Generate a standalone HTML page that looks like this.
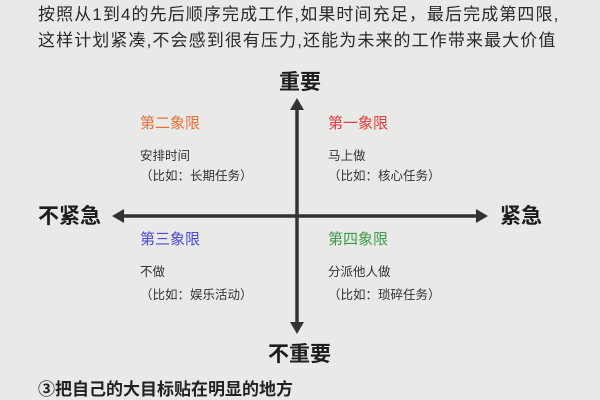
<!DOCTYPE html>
<html><head><meta charset="utf-8"><style>
body{margin:0;width:600px;height:400px;background:#e9e9e8;position:relative;overflow:hidden;font-family:"Liberation Sans","Noto Sans CJK SC",sans-serif;color:#222}
div.t{position:absolute;white-space:nowrap;line-height:1}
.top{font-size:17px;left:38px;color:#2a2a2a;letter-spacing:1.1px}
.ax{font-size:21px;font-weight:bold;color:#1e1e1e}
.q{font-size:15px}
.s{font-size:12.5px;color:#333}
</style></head><body>
<div class="t top" style="top:6px">按照从1到4的先后顺序完成工作,如果时间充足，最后完成第四限,</div>
<div class="t top" style="top:32px">这样计划紧凑,不会感到很有压力,还能为未来的工作带来最大价值</div>
<svg width="600" height="400" style="position:absolute;left:0;top:0">
<g stroke="#333" stroke-width="3.5">
<line x1="297" y1="108" x2="297" y2="324"/>
<line x1="122" y1="216" x2="478" y2="216"/>
</g>
<g fill="#333">
<polygon points="297,98 290,110 304,110"/>
<polygon points="297,334 290,322 304,322"/>
<polygon points="112,216 124,209 124,223"/>
<polygon points="488,216 476,209 476,223"/>
</g>
</svg>
<div class="t ax" style="left:279px;top:72px">重要</div>
<div class="t ax" style="left:38px;top:206px">不紧急</div>
<div class="t ax" style="left:500px;top:206px">紧急</div>
<div class="t ax" style="left:268px;top:344px">不重要</div>
<div class="t q" style="left:140px;top:116px;color:#e8703a">第二象限</div>
<div class="t s" style="left:140px;top:150px">安排时间</div>
<div class="t s" style="left:140px;top:170px">（比如：长期任务）</div>
<div class="t q" style="left:328px;top:116px;color:#e23c3c">第一象限</div>
<div class="t s" style="left:328px;top:150px">马上做</div>
<div class="t s" style="left:328px;top:170px">（比如：核心任务）</div>
<div class="t q" style="left:140px;top:232px;color:#4b48d6">第三象限</div>
<div class="t s" style="left:140px;top:266px">不做</div>
<div class="t s" style="left:140px;top:289px">（比如：娱乐活动）</div>
<div class="t q" style="left:328px;top:232px;color:#3f9a4c">第四象限</div>
<div class="t s" style="left:328px;top:266px">分派他人做</div>
<div class="t s" style="left:328px;top:289px">（比如：琐碎任务）</div>
<div class="t" style="left:38px;top:381px;font-size:17px;font-weight:bold;color:#222">③把自己的大目标贴在明显的地方</div>
</body></html>
